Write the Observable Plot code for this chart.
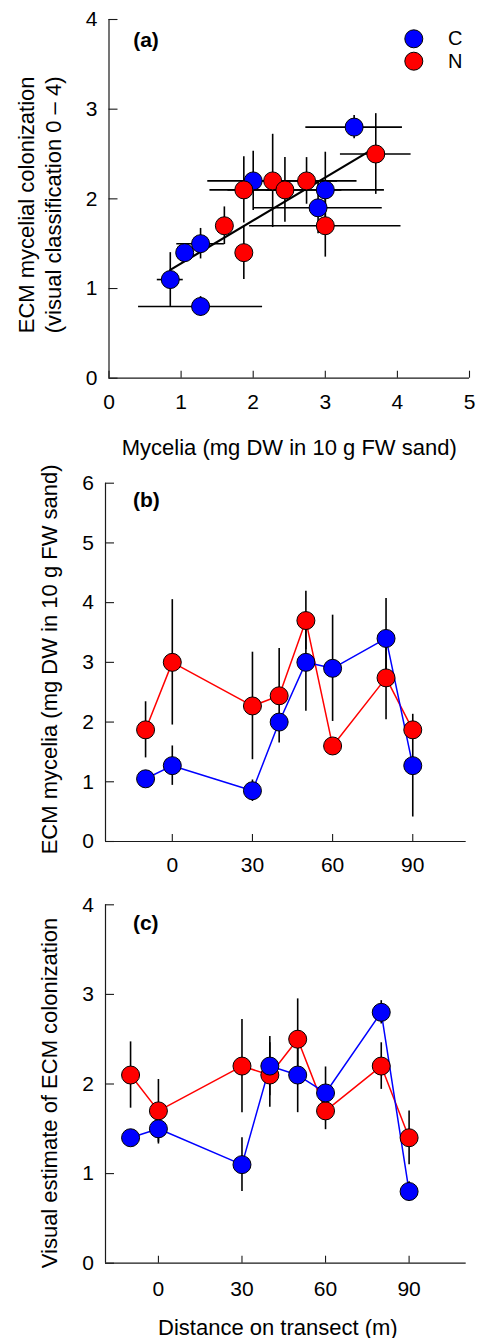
<!DOCTYPE html>
<html><head><meta charset="utf-8">
<script src="https://cdn.jsdelivr.net/npm/d3@7"></script>
<script src="https://cdn.jsdelivr.net/npm/@observablehq/plot@0.6"></script>
<style>
body{margin:0;background:#fff;}
#chart{position:relative;width:479px;height:1338px;background:#fff;}
#chart svg{position:absolute;left:0;}
</style></head><body><div id="chart"></div>
<script>
// ---- data ----
const treatments = ["C", "N"];
const treatmentColors = ["#0000ff", "#ff0000"];
const distance = [-10, 0, 30, 40, 50, 60, 80, 90];
// ECM mycelia (mg DW in 10 g FW sand), mean and error
const myceliaC = [1.05, 1.27, 0.85, 2.0, 3.0, 2.9, 3.4, 1.27];
const myceliaCErr = [0.08, 0.33, 0.18, 0.1, 0.82, 0.89, 0.67, 0.86];
const myceliaN = [1.87, 3.0, 2.27, 2.44, 3.7, 1.6, 2.74, 1.87];
const myceliaNErr = [0.47, 1.05, 0.9, 0.79, 0.49, 0.1, 0.7, 0.1];
// Visual estimate of ECM colonization (0-4), mean and error
const colonC = [1.4, 1.5, 1.1, 2.2, 2.1, 1.9, 2.8, 0.8];
const colonCErr = [0.06, 0.17, 0.3, 0.33, 0.42, 0.29, 0.13, 0.11];
const colonN = [2.1, 1.7, 2.2, 2.1, 2.5, 1.7, 2.2, 1.4];
const colonNErr = [0.37, 0.35, 0.52, 0.36, 0.45, 0.21, 0.26, 0.3];
// ticks
const ticksAx = [0, 1, 2, 3, 4, 5];
const ticksAy = [0, 1, 2, 3, 4];
const ticksBx = [0, 30, 60, 90];
const ticksBy = [0, 1, 2, 3, 4, 5, 6];
const ticksCx = [0, 30, 60, 90];
const ticksCy = [0, 1, 2, 3, 4];
// texts
const panelLabels = ["(a)", "(b)", "(c)"];
const titleAy = "ECM mycelial colonization\n(visual classification 0 \u2013 4)";
const titleAx = "Mycelia (mg DW in 10 g FW sand)";
const titleBy = "ECM mycelia (mg DW in 10 g FW sand)";
const titleCy = "Visual estimate of ECM colonization";
const titleCx = "Distance on transect (m)";

// ---- tables built from the arrays ----
const rowsC = distance.map((d, i) => ({t: "C", d, m: myceliaC[i], me: myceliaCErr[i], c: colonC[i], ce: colonCErr[i]}));
const rowsN = distance.map((d, i) => ({t: "N", d, m: myceliaN[i], me: myceliaNErr[i], c: colonN[i], ce: colonNErr[i]}));
const rowsCN = rowsC.concat(rowsN);   // C drawn first (panel a)
const rowsNC = rowsN.concat(rowsC);   // N drawn first (panels b, c)

const FONT = '"Liberation Sans", Arial, Helvetica, sans-serif';
const AXIS = "#1a1a1a";
const TICK_FS = 21, TITLE_FS = 22;
const W = 479;
const color = {domain: treatments, range: treatmentColors};
const style = {fontFamily: FONT, fontSize: TICK_FS + "px", background: "transparent", overflow: "visible", color: "#000"};
const fmt = d => String(d);

function frame(L, xTicks, yTicks, xDomain, xLabelDy) {
  const innerW = W - L.ml - L.mr, innerH = L.h - L.mt - L.mb;
  return [
    Plot.ruleX([xDomain[0]], {stroke: AXIS, strokeWidth: 1.2}),
    Plot.ruleY([0], {stroke: AXIS, strokeWidth: 1.2}),
    Plot.tickX(xTicks, {x: d => d, insetTop: innerH - 7, stroke: AXIS, strokeWidth: 1.1}),
    Plot.tickY(yTicks, {y: d => d, insetRight: innerW - 9, stroke: AXIS, strokeWidth: 1.1}),
    Plot.text(xTicks, {x: d => d, text: fmt, frameAnchor: "bottom", dy: xLabelDy, textAnchor: "middle", lineAnchor: "middle", fontSize: TICK_FS, fill: "#000"}),
    Plot.text(yTicks, {y: d => d, text: fmt, frameAnchor: "left", dx: -11.5, textAnchor: "end", lineAnchor: "middle", fontSize: TICK_FS, fill: "#000"})
  ];
}
function place(svg, top) { svg.style.top = top + "px"; document.getElementById("chart").appendChild(svg); }

// ---- panel (a) ----
const LA = {top: 0, h: 460, mt: 19, mb: 82.3, ml: 108.5, mr: 10};
const domAx = [0, 5];
const legendMarks = [];
treatments.forEach((t, i) => {
  legendMarks.push(Plot.dot([t], {frameAnchor: "top-right", dx: -55.7, dy: 19.3 + 22.4 * i, r: 9, fill: treatmentColors[i], stroke: "#000", strokeWidth: 1}));
  legendMarks.push(Plot.text([t], {text: d => d, frameAnchor: "top-right", dx: -21.5, dy: 19.3 + 22.4 * i, textAnchor: "start", lineAnchor: "middle", fontSize: 20}));
});
const plotA = Plot.plot({
  width: W, height: LA.h, marginTop: LA.mt, marginBottom: LA.mb, marginLeft: LA.ml, marginRight: LA.mr,
  x: {domain: domAx, axis: null}, y: {domain: [0, 4], axis: null}, color, style,
  marks: [
    ...frame(LA, ticksAx, ticksAy, domAx, 24),
    Plot.ruleY(rowsCN, {y: "c", x1: d => d.m - d.me, x2: d => d.m + d.me, stroke: "#000", strokeWidth: 1.6}),
    Plot.ruleX(rowsCN, {x: "m", y1: d => d.c - d.ce, y2: d => d.c + d.ce, stroke: "#000", strokeWidth: 1.6}),
    Plot.linearRegressionY(rowsCN, {x: "m", y: "c", stroke: "#000", strokeWidth: 2.2, ci: 0}),
    Plot.dot(rowsCN, {x: "m", y: "c", fill: "t", r: 9, stroke: "#000", strokeWidth: 1}),
    ...legendMarks,
    Plot.text([panelLabels[0]], {text: d => d, frameAnchor: "top-left", dx: 24.2, dy: 21, textAnchor: "start", lineAnchor: "middle", fontWeight: "bold", fontSize: 21}),
    Plot.text([titleAy], {text: d => d, frameAnchor: "left", rotate: -90, dx: -70, dy: 6, textAnchor: "middle", lineAnchor: "middle", lineHeight: 1.22, fontSize: TITLE_FS}),
    Plot.text([titleAx], {text: d => d, frameAnchor: "bottom", dy: 69.3, textAnchor: "middle", lineAnchor: "middle", fontSize: TITLE_FS})
  ]
});
place(plotA, LA.top);

// ---- panel (b) ----
const LB = {top: 460, h: 420, mt: 22.7, mb: 39, ml: 105, mr: 13.3};
const domBx = [-25, 110];
const plotB = Plot.plot({
  width: W, height: LB.h, marginTop: LB.mt, marginBottom: LB.mb, marginLeft: LB.ml, marginRight: LB.mr,
  x: {domain: domBx, axis: null}, y: {domain: [0, 6], axis: null}, color, style,
  marks: [
    ...frame(LB, ticksBx, ticksBy, domBx, 24),
    Plot.line(rowsNC, {x: "d", y: "m", z: "t", stroke: "t", strokeWidth: 1.5}),
    Plot.ruleX(rowsNC, {x: "d", y1: d => d.m - d.me, y2: d => d.m + d.me, stroke: "#000", strokeWidth: 1.6}),
    Plot.dot(rowsNC, {x: "d", y: "m", fill: "t", r: 9, stroke: "#000", strokeWidth: 1}),
    Plot.text([panelLabels[1]], {text: d => d, frameAnchor: "top-left", dx: 27.4, dy: 17.3, textAnchor: "start", lineAnchor: "middle", fontWeight: "bold", fontSize: 21}),
    Plot.text([titleBy], {text: d => d, frameAnchor: "left", rotate: -90, dx: -55.3, dy: -3, textAnchor: "middle", lineAnchor: "middle", fontSize: TITLE_FS})
  ]
});
place(plotB, LB.top);

// ---- panel (c) ----
const LC = {top: 880, h: 458, mt: 24.3, mb: 75.3, ml: 105, mr: 13.3};
const domCx = [-19, 110.5];
const plotC = Plot.plot({
  width: W, height: LC.h, marginTop: LC.mt, marginBottom: LC.mb, marginLeft: LC.ml, marginRight: LC.mr,
  x: {domain: domCx, axis: null}, y: {domain: [0, 4], axis: null}, color, style,
  marks: [
    ...frame(LC, ticksCx, ticksCy, domCx, 25.6),
    Plot.line(rowsNC, {x: "d", y: "c", z: "t", stroke: "t", strokeWidth: 1.5}),
    Plot.ruleX(rowsNC, {x: "d", y1: d => d.c - d.ce, y2: d => d.c + d.ce, stroke: "#000", strokeWidth: 1.6}),
    Plot.dot(rowsNC, {x: "d", y: "c", fill: "t", r: 9, stroke: "#000", strokeWidth: 1}),
    Plot.text([panelLabels[2]], {text: d => d, frameAnchor: "top-left", dx: 27.4, dy: 18.2, textAnchor: "start", lineAnchor: "middle", fontWeight: "bold", fontSize: 21}),
    Plot.text([titleCy], {text: d => d, frameAnchor: "left", rotate: -90, dx: -56, dy: 9, textAnchor: "middle", lineAnchor: "middle", fontSize: TITLE_FS}),
    Plot.text([titleCx], {text: d => d, frameAnchor: "bottom", dx: -8, dy: 64.3, textAnchor: "middle", lineAnchor: "middle", fontSize: TITLE_FS})
  ]
});
place(plotC, LC.top);
</script></body></html>
